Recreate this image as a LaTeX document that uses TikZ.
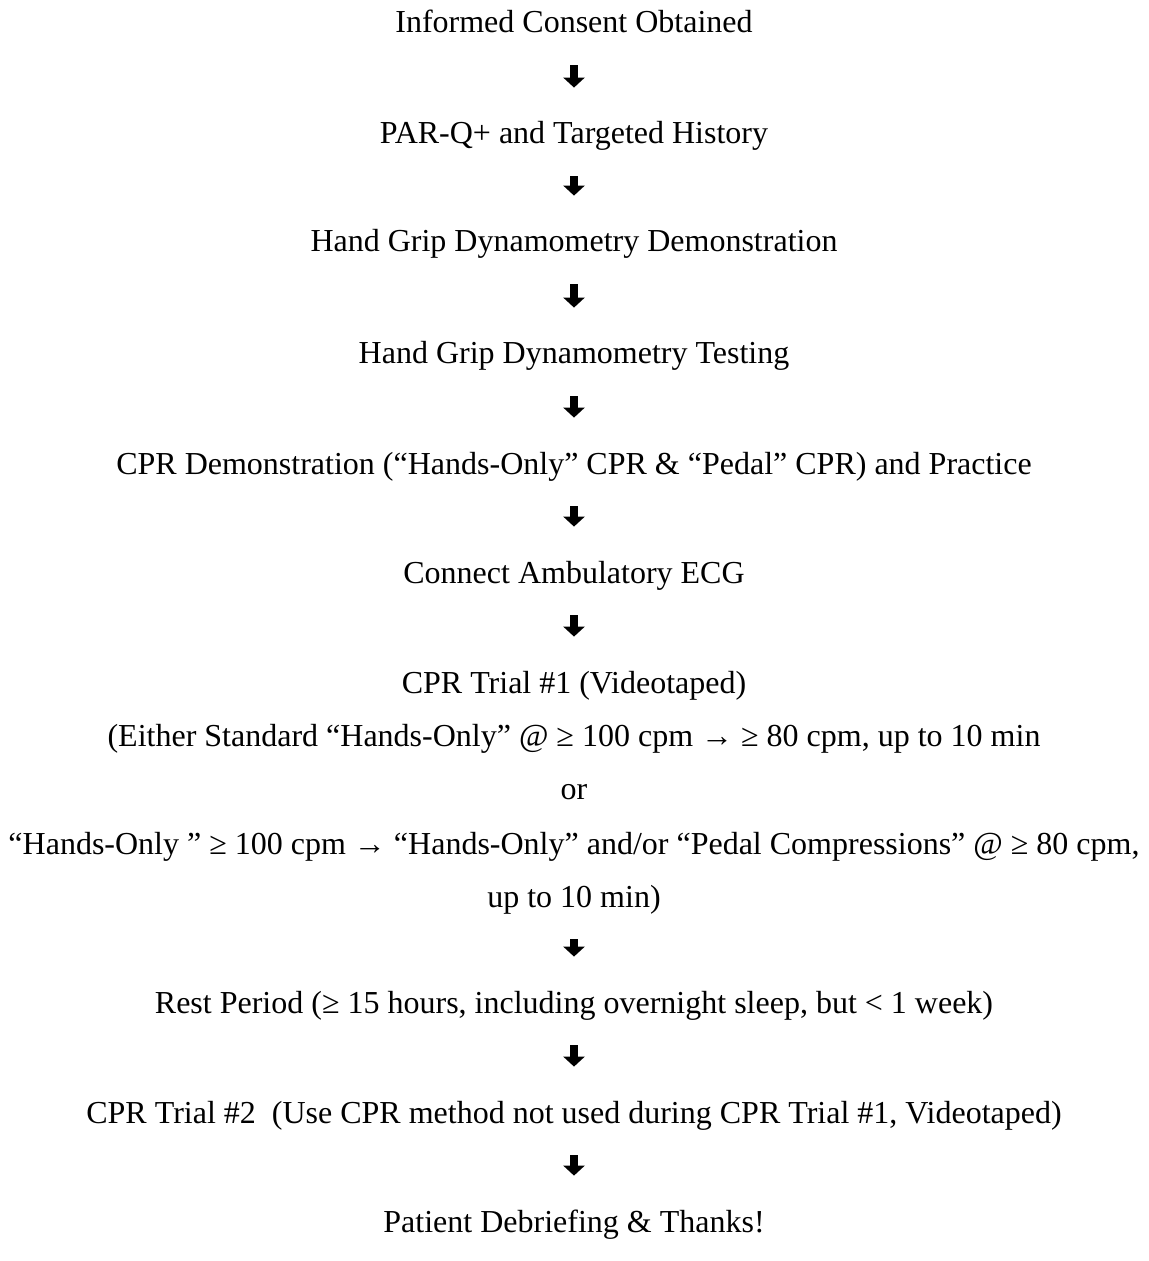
\documentclass[tikz,border=0pt]{standalone}
\usepackage{fontspec}
\setmainfont{Liberation Serif}
\usetikzlibrary{arrows.meta}

\begin{document}
\begin{tikzpicture}[x=0.5pt,y=-0.5pt,
  stage/.style={anchor=base,inner sep=0pt,text height=9pt,text depth=3pt,
    font=\fontsize{16}{19}\selectfont},
  flowarrow/.style={line width=4pt,-{Triangle[width=10.5pt,length=5pt]},
    shorten <=13pt,shorten >=19pt}]
  \useasboundingbox (0,0) rectangle (1148,1261);

  \foreach \nm/\y/\txt in {
      informed/33/{Informed Consent Obtained},
      parq/144/{PAR-Q+ and Targeted History},
      hgdemo/252/{Hand Grip Dynamometry Demonstration},
      hgtest/364/{Hand Grip Dynamometry Testing},
      cprdemo/474/{CPR Demonstration (“Hands-Only” CPR \& “Pedal” CPR) and Practice},
      ecg/583/{Connect Ambulatory ECG},
      trialone/693/{CPR Trial \#1 (Videotaped)},
      either/746/{(Either Standard “Hands-Only” @ ≥ 100 cpm → ≥ 80 cpm, up to 10 min},
      orline/799/{or},
      pedal/854/{“Hands-Only ” ≥ 100 cpm → “Hands-Only” and/or “Pedal Compressions” @ ≥ 80 cpm,},
      uptoten/907/{up to 10 min)},
      rest/1013/{Rest Period (≥ 15 hours, including overnight sleep, but < 1 week)},
      trialtwo/1123/{CPR Trial \#2\ \ (Use CPR method not used during CPR Trial \#1, Videotaped)},
      debrief/1232/{Patient Debriefing \& Thanks!}}
    \node[stage] (\nm) at (574,\y) {\txt};

  \foreach \a/\b in {informed/parq,parq/hgdemo,hgdemo/hgtest,hgtest/cprdemo,
      cprdemo/ecg,ecg/trialone,uptoten/rest,rest/trialtwo,trialtwo/debrief}
    \draw[flowarrow] (\a) -- (\b);
\end{tikzpicture}
\end{document}
